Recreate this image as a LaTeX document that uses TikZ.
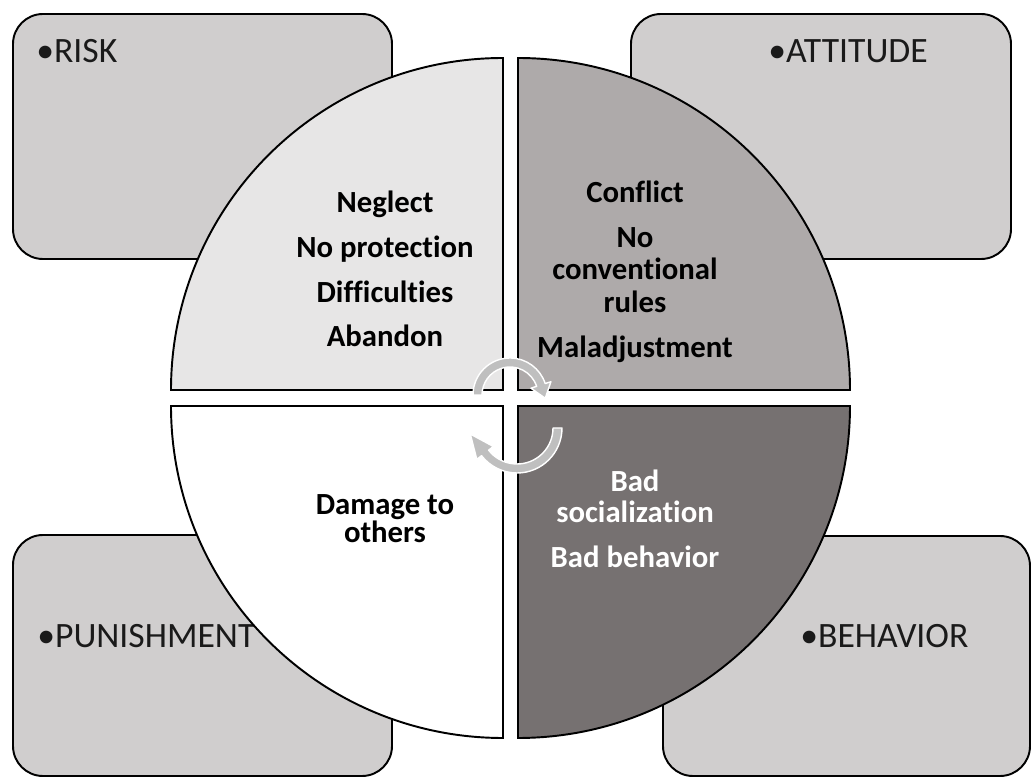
\documentclass[tikz,border=0pt]{standalone}
\usepackage{fontspec}
\setmainfont{Carlito}[Ligatures={NoCommon,NoContextual}]
\usetikzlibrary{calc}
\definecolor{boxfill}{HTML}{D0CECE}
\definecolor{qone}{HTML}{E7E6E6}
\definecolor{qtwo}{HTML}{AEAAAA}
\definecolor{qfour}{HTML}{767171}
\definecolor{arrowfill}{HTML}{BFBFBF}
\definecolor{lbltext}{HTML}{1A1A1A}
\begin{document}
\begin{tikzpicture}[x=0.02cm,y=0.02cm,
  sidebox/.style={draw=black, fill=boxfill, line width=1.1pt, rounded corners=0.6cm},
  quad/.style={draw=black, line width=1.1pt, line join=miter},
  lbl/.style={anchor=base west, inner sep=0pt, text=lbltext, font=\fontsize{20.3}{24}\selectfont},
  qtxt/.style={anchor=base, inner sep=0pt, font=\bfseries\fontsize{17.5}{21}\selectfont},
  carrow/.style={fill=arrowfill, draw=white, line width=0.8pt, line join=round}]
\useasboundingbox (0,0) rectangle (1032,778);
% side boxes
\draw[sidebox] (13,519) rectangle (392,764);
\draw[sidebox] (631,519) rectangle (1011,764);
\draw[sidebox] (13,2) rectangle (392,243);
\draw[sidebox] (663,2) rectangle (1030,242);
\node[lbl] (risk) at (36,715) {•RISK};
\node[lbl] (attitude) at (768,715) {•ATTITUDE};
\node[lbl] (punish) at (37,130) {•PUNISHMENT};
\node[lbl] (behav) at (800,130) {•BEHAVIOR};
% quadrants
\draw[quad, fill=qone] (503,388) -- (503,720) arc[start angle=90, end angle=180, radius=332] -- cycle;
\draw[quad, fill=qtwo] (518,388) -- (850,388) arc[start angle=0, end angle=90, radius=332] -- cycle;
\draw[quad, fill=white] (503,372) -- (171,372) arc[start angle=180, end angle=270, radius=332] -- cycle;
\draw[quad, fill=qfour] (518,372) -- (518,40) arc[start angle=270, end angle=360, radius=332] -- cycle;
% quadrant texts
\node[qtxt] (neglect) at (385,565) {Neglect};
\node[qtxt] (noprot) at (385,520) {No protection};
\node[qtxt] (diffic) at (385,475) {Difficulties};
\node[qtxt] (abandon) at (385,431) {Abandon};
\node[qtxt] (conflict) at (635,575) {Conflict};
\node[qtxt] (no) at (635,530) {No};
\node[qtxt] (conv) at (635,498) {conventional};
\node[qtxt] (rules) at (635,465) {rules};
\node[qtxt] (malad) at (635,420) {Maladjustment};
\node[qtxt, text=white] (bad) at (635,286) {Bad};
\node[qtxt, text=white] (social) at (635,255) {socialization};
\node[qtxt, text=white] (badbeh) at (635,210) {Bad behavior};
\node[qtxt] (damage) at (385,263) {Damage to};
\node[qtxt] (others) at (385,235) {others};
% circular arrows
\coordinate (c1) at (510,383);
\filldraw[carrow] ($(c1)+(180:37)$) arc[start angle=180, end angle=18, radius=37]
  -- ($(c1)+(18:43)$) -- ($(c1)+(18:32.5)+(-72:14)$) -- ($(c1)+(18:22)$)
  -- ($(c1)+(18:28)$) arc[start angle=18, end angle=180, radius=28] -- cycle;
\coordinate (c2) at (517,350);
\filldraw[carrow] ($(c2)+(0:45)$) arc[start angle=0, end angle=-142, radius=45]
  -- ($(c2)+(-142:51)$) -- ($(c2)+(-142:40.5)+(128:24)$) -- ($(c2)+(-142:30)$)
  -- ($(c2)+(-142:36)$) arc[start angle=-142, end angle=0, radius=36] -- cycle;
\end{tikzpicture}
\end{document}
